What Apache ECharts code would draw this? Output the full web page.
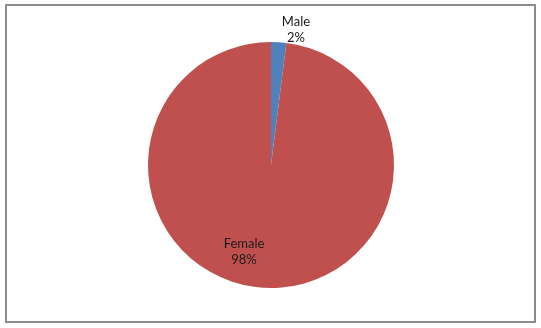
<!DOCTYPE html>
<html><head><meta charset="utf-8">
<script src="https://cdn.jsdelivr.net/npm/echarts@6/dist/echarts.min.js"></script>
<style>html,body{margin:0;padding:0;background:#fff}#c{width:541px;height:328px}</style>
</head><body><div id="c"></div>
<script>
const categories = ['Male', 'Female'];
const values = [2, 98];
const colors = ['#4F81BD', '#C0504D'];

const chart = echarts.init(document.getElementById('c'), null, {renderer: 'canvas'});
const labelPos = [[296, 30], [244, 252]];
chart.setOption({
  animation: false,
  graphic: [{
    type: 'rect', shape: {x: 6, y: 5, width: 529, height: 317},
    style: {fill: 'none', stroke: '#8c8c8c', lineWidth: 2}, silent: true
  }],
  series: [{
    type: 'pie',
    center: [271, 165],
    radius: 123,
    startAngle: 90,
    clockwise: true,
    data: categories.map((c, i) => ({name: c, value: values[i], itemStyle: {color: colors[i]}})),
    itemStyle: {borderWidth: 0},
    label: {
      show: true,
      formatter: p => p.name + '\n' + Math.round(p.percent) + '%',
      fontFamily: 'Lato', fontSize: 13, color: '#1a1a1a', lineHeight: 16, align: 'center'
    },
    labelLine: {show: false},
    labelLayout: p => ({x: labelPos[p.dataIndex][0], y: labelPos[p.dataIndex][1], align: 'center', verticalAlign: 'middle'})
  }]
});
</script></body></html>
